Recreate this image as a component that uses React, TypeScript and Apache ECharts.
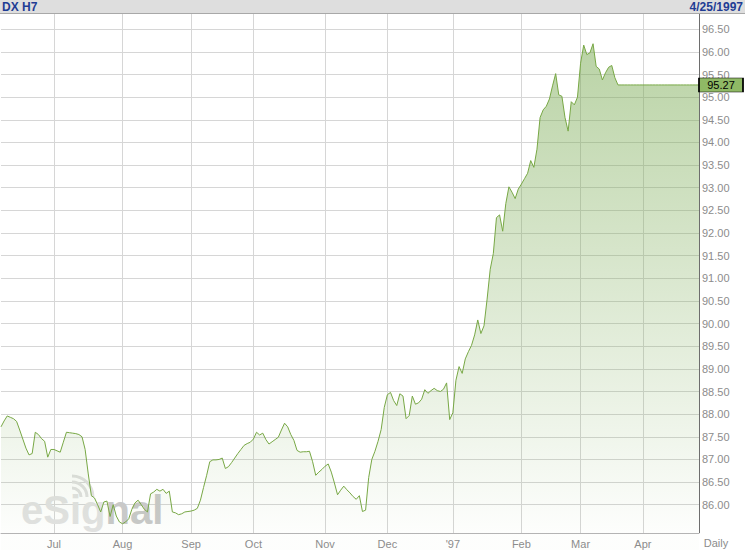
import React, { useEffect, useRef } from 'react';
import * as echarts from 'echarts';

// ---- data ----
const startDate = '1996-06-06';
const endDate = '1997-04-25';
const holidays = ['1996-07-04', '1996-09-02', '1996-11-28', '1996-12-25', '1997-01-01', '1997-02-17', '1997-03-28'];
const monthNames = ['Jan', 'Feb', 'Mar', 'Apr', 'May', 'Jun', 'Jul', 'Aug', 'Sep', 'Oct', 'Nov', 'Dec'];
const yearLabel = "'97";

const valuesJun = [87.72, 87.85, 87.96, 87.93, 87.9, 87.84, 87.65, 87.45, 87.25, 87.1, 87.13, 87.6, 87.55, 87.46, 87.4, 87.05, 87.22];
const valuesJul = [87.22, 87.19, 87.16, 87.38, 87.6, 87.59, 87.58, 87.57, 87.55, 87.5, 87.22, 86.68, 86.2, 86.15, 86.0, 85.84, 86.06, 86.08, 85.74, 86.0, 85.75, 85.62];
const valuesAug = [85.58, 85.62, 85.69, 85.9, 86.04, 86.1, 86.0, 85.9, 85.84, 86.24, 86.28, 86.34, 86.3, 86.34, 86.25, 86.3, 85.84, 85.82, 85.78, 85.8, 85.84, 85.85];
const valuesSep = [85.86, 85.88, 85.92, 86.1, 86.38, 86.65, 86.95, 86.99, 86.99, 87.0, 87.03, 86.8, 86.84, 86.93, 87.03, 87.13, 87.22, 87.31, 87.35, 87.38];
const valuesOct = [87.45, 87.6, 87.54, 87.58, 87.44, 87.34, 87.39, 87.44, 87.49, 87.65, 87.8, 87.72, 87.55, 87.42, 87.2, 87.16, 87.17, 87.17, 87.18, 86.95, 86.65, 86.72, 86.78];
const valuesNov = [86.85, 86.9, 86.72, 86.48, 86.22, 86.32, 86.41, 86.33, 86.26, 86.18, 86.12, 86.2, 85.85, 85.88, 86.6, 87.0, 87.18, 87.4, 87.66, 88.15];
const valuesDec = [88.43, 88.48, 88.3, 88.19, 88.45, 88.4, 87.9, 87.97, 88.4, 88.22, 88.25, 88.33, 88.54, 88.46, 88.52, 88.57, 88.52, 88.5, 88.55, 88.69, 87.88];
const valuesJan = [88.03, 88.75, 89.05, 88.9, 89.22, 89.38, 89.52, 89.75, 90.08, 89.78, 89.95, 90.54, 91.2, 91.55, 92.34, 92.4, 92.04, 92.65, 93.02, 92.9, 92.76, 92.97];
const valuesFeb = [93.08, 93.2, 93.32, 93.6, 93.45, 93.85, 94.55, 94.72, 94.8, 94.96, 95.25, 95.52, 95.05, 95.02, 94.55, 94.25, 94.9, 94.83, 95.0];
const valuesMar = [95.75, 96.15, 95.94, 95.98, 96.18, 95.68, 95.62, 95.38, 95.54, 95.66, 95.7, 95.43, 95.27, 95.27, 95.27, 95.27, 95.27, 95.27, 95.27, 95.27];
const valuesApr = [95.27, 95.27, 95.27, 95.27, 95.27, 95.27, 95.27, 95.27, 95.27, 95.27, 95.27, 95.27, 95.27, 95.27, 95.27, 95.27, 95.27, 95.27, 95.27];

const lastValue = 95.27;
const yMin = 85;
const yMax = 97;
const yStep = 0.5;
const yLabelLow = 86;
const yLabelHigh = 96.5;

const title = 'DX H7';
const dateText = '4/25/1997';
const periodText = 'Daily';
const watermarkA = 'eSig';
const watermarkB = 'nal';

function buildDates(): string[] {
  const out: string[] = [];
  const d = new Date(startDate + 'T00:00:00Z');
  const end = new Date(endDate + 'T00:00:00Z');
  while (d.getTime() <= end.getTime()) {
    const iso = d.toISOString().slice(0, 10);
    const wd = d.getUTCDay();
    if (wd !== 0 && wd !== 6 && holidays.indexOf(iso) < 0) out.push(iso);
    d.setUTCDate(d.getUTCDate() + 1);
  }
  return out;
}

const FONT = '"Liberation Sans", Arial, sans-serif';

export default function App() {
  const ref = useRef<HTMLDivElement>(null);
  useEffect(() => {
    document.body.style.margin = '0';
    const chart = echarts.init(ref.current as HTMLDivElement, null, { renderer: 'svg' });
    const values = [
      ...valuesJun, ...valuesJul, ...valuesAug, ...valuesSep, ...valuesOct, ...valuesNov,
      ...valuesDec, ...valuesJan, ...valuesFeb, ...valuesMar, ...valuesApr,
    ];
    const dates = buildDates();
    const isMonthStart = (i: number) => i > 0 && dates[i].slice(0, 7) !== dates[i - 1].slice(0, 7);
    const monthLabel = (v: string) => {
      const m = Number(v.slice(5, 7));
      return m === 1 ? yearLabel : monthNames[m - 1];
    };
    const ticks: number[] = [];
    for (let v = yMin; v <= yMax + 1e-9; v += yStep) ticks.push(Math.round(v * 100) / 100);
    const splitColors = ticks.map((v) => (v >= yLabelLow && v <= yLabelHigh ? '#d6d6d6' : 'rgba(0,0,0,0)'));

    const pxPerUnit = 45.4;
    const y86 = 506;
    const gridTop = y86 - (yMax - 86) * pxPerUnit;
    const gridHeight = (yMax - yMin) * pxPerUnit;
    const wmFont = 'bold 40px ' + FONT;

    chart.setOption({
      animation: false,
      backgroundColor: '#ffffff',
      grid: [
        { left: 1, right: 46, top: gridTop, height: gridHeight },
        { left: 1, right: 46, top: 532, height: 1 },
      ],
      xAxis: [
        {
          type: 'category', gridIndex: 0, data: dates, boundaryGap: false,
          axisLine: { show: false }, axisTick: { show: false }, axisLabel: { show: false },
          splitLine: { show: true, interval: (i: number) => isMonthStart(i), lineStyle: { color: '#d6d6d6', width: 1 } },
        },
        {
          type: 'category', gridIndex: 1, data: dates, boundaryGap: false, z: 10,
          axisLine: { show: true, lineStyle: { color: '#b4b4b4', width: 1 } },
          axisTick: { show: false },
          splitLine: { show: false },
          axisLabel: {
            show: true, interval: (i: number) => isMonthStart(i), formatter: (v: string) => monthLabel(v),
            color: '#8c8c8c', fontSize: 11, fontFamily: FONT, margin: 5,
          },
        },
      ],
      yAxis: [
        {
          type: 'value', gridIndex: 0, position: 'right', min: yMin, max: yMax, interval: yStep,
          axisLine: { show: true, onZero: false, lineStyle: { color: '#6e6e6e', width: 1 } },
          axisTick: { show: false },
          axisLabel: {
            show: true, margin: 3, color: '#8c8c8c', fontSize: 11, fontFamily: FONT,
            formatter: (v: number) => (v >= yLabelLow - 1e-9 && v <= yLabelHigh + 1e-9 ? v.toFixed(2) : ''),
          },
          splitLine: { show: true, lineStyle: { color: splitColors, width: 1 } },
        },
        { type: 'value', gridIndex: 1, show: false },
      ],
      series: [
        {
          type: 'line', xAxisIndex: 0, yAxisIndex: 0, data: values, symbol: 'none', clip: false,
          lineStyle: { color: '#78a845', width: 1 },
          areaStyle: {
            color: new echarts.graphic.LinearGradient(0, 30, 0, 533, [
              { offset: 0, color: 'rgba(118,168,78,0.74)' },
              { offset: 0.5, color: 'rgba(118,168,78,0.38)' },
              { offset: 1, color: 'rgba(118,168,78,0.02)' },
            ], true),
          },
          markPoint: {
            symbol: 'rect', symbolSize: [44, 14], symbolOffset: [22, 0],
            itemStyle: { color: '#8fb965', borderColor: '#000000', borderWidth: 1 },
            label: { show: true, position: 'inside', color: '#000000', fontSize: 11, fontFamily: FONT, formatter: () => lastValue.toFixed(2) },
            data: [{ coord: [values.length - 1, lastValue] }],
          },
        },
      ],
      graphic: [
        // header bar
        { type: 'rect', shape: { x: 0, y: 0, width: 745, height: 13 }, style: { fill: '#dedede' }, z: 3 },
        { type: 'line', shape: { x1: 0, y1: 13.5, x2: 745, y2: 13.5 }, style: { stroke: '#a8a8a8', lineWidth: 1 }, z: 3 },
        { type: 'text', x: 2, y: 7, style: { text: title, font: 'bold 12px ' + FONT, fill: '#1f3c94', verticalAlign: 'middle', align: 'left' }, z: 4 },
        { type: 'text', x: 743, y: 7, style: { text: dateText, font: 'bold 12px ' + FONT, fill: '#1f3c94', verticalAlign: 'middle', align: 'right' }, z: 4 },
        // bottom strip
        { type: 'rect', shape: { x: 0, y: 533, width: 745, height: 17 }, style: { fill: '#ffffff' }, z: 3 },
        { type: 'text', x: 716, y: 543, style: { text: periodText, font: '11px ' + FONT, fill: '#8c8c8c', verticalAlign: 'middle', align: 'center' }, z: 4 },
        // watermark
        { type: 'text', x: 21, y: 530, style: { text: watermarkA, font: wmFont, fill: '#e2e2e2', verticalAlign: 'bottom', align: 'left' }, z: 1 },
        { type: 'text', x: 105.5, y: 530, style: { text: watermarkB, font: wmFont, fill: '#c9c9c9', verticalAlign: 'bottom', align: 'left' }, z: 1 },
        { type: 'arc', shape: { cx: 72, cy: 497, r: 9, startAngle: -Math.PI / 2, endAngle: 0 }, style: { stroke: '#e0e0e0', lineWidth: 3, fill: 'none' }, z: 1 },
        { type: 'arc', shape: { cx: 72, cy: 497, r: 15, startAngle: -Math.PI / 2, endAngle: 0 }, style: { stroke: '#e0e0e0', lineWidth: 3, fill: 'none' }, z: 1 },
        { type: 'arc', shape: { cx: 72, cy: 497, r: 21, startAngle: -Math.PI / 2, endAngle: 0 }, style: { stroke: '#e0e0e0', lineWidth: 3, fill: 'none' }, z: 1 },
      ],
    });
    return () => chart.dispose();
  }, []);
  return <div ref={ref} style={{ position: 'absolute', left: 0, top: 0, width: 745, height: 550 }} />;
}
